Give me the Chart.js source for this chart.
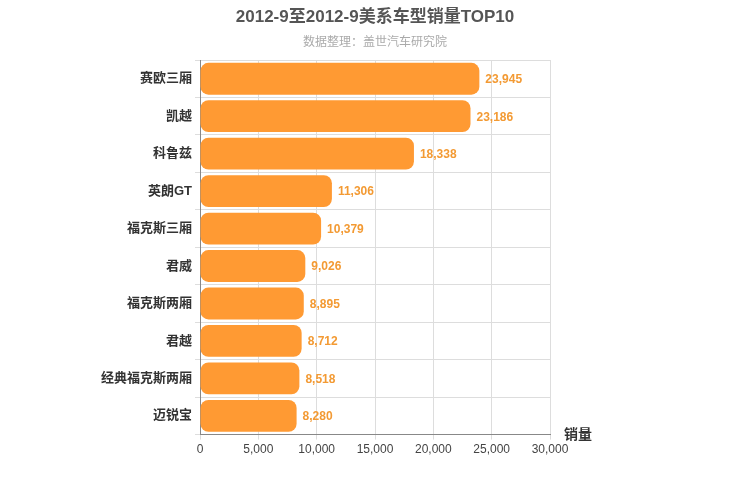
<!DOCTYPE html>
<html lang="zh">
<head>
<meta charset="UTF-8">
<title>美系车型销量TOP10</title>
<script src="https://cdn.jsdelivr.net/npm/chart.js"></script>
<style>
  body { margin: 0; background: #fff; }
  #wrap { width: 750px; height: 500px; }
</style>
</head>
<body>
<div id="wrap"><canvas id="myChart" width="750" height="500"></canvas></div>
<script>
    // 数据
    const modelos = ['赛欧三厢', '凯越', '科鲁兹', '英朗GT', '福克斯三厢', '君威', '福克斯两厢', '君越', '经典福克斯两厢', '迈锐宝'];
    const vendas = [23945, 23186, 18338, 11306, 10379, 9026, 8895, 8712, 8518, 8280];
    const xTicks = [0, 5000, 10000, 15000, 20000, 25000, 30000];

    const fonte = '"Liberation Sans", "Noto Sans CJK SC", sans-serif';

    // títulos, rótulos dos valores e título do eixo
    const rotulos = {
        id: 'rotulos',
        afterDatasetsDraw(chart) {
            const ctx = chart.ctx;
            const meta = chart.getDatasetMeta(0);
            ctx.save();
            ctx.font = 'bold 12px ' + fonte;
            ctx.fillStyle = '#f39a33';
            ctx.textBaseline = 'middle';
            meta.data.forEach((bar, i) => {
                ctx.fillText(vendas[i].toLocaleString('en-US'), bar.x + 6, bar.y + 1);
            });
            const area = chart.chartArea;
            ctx.font = 'bold 14px ' + fonte;
            ctx.fillStyle = '#333';
            ctx.textBaseline = 'alphabetic';
            ctx.fillText('销量', area.right + 14, area.bottom + 4);

            ctx.textAlign = 'center';
            ctx.font = 'bold 17px ' + fonte;
            ctx.fillStyle = '#555';
            ctx.fillText('2012-9至2012-9美系车型销量TOP10', 375, 22);
            ctx.font = '12px ' + fonte;
            ctx.fillStyle = '#aaa';
            ctx.fillText('数据整理：盖世汽车研究院', 375, 46);
            ctx.restore();
        }
    };

    new Chart(document.getElementById('myChart'), {
        type: 'bar',
        data: {
            labels: modelos,
            datasets: [{
                data: vendas,
                backgroundColor: '#ff9a33',
                borderRadius: 8,
                borderSkipped: false,
                barPercentage: 0.85,
                categoryPercentage: 1
            }]
        },
        options: {
            indexAxis: 'y',
            responsive: false,
            animation: false,
            layout: { padding: { left: 10, right: 200, top: 60, bottom: 40 } },
            plugins: {
                legend: { display: false },
                tooltip: { enabled: false }
            },
            scales: {
                x: {
                    min: 0, max: 30000,
                    afterBuildTicks(axis) { axis.ticks = xTicks.map(v => ({ value: v })); },
                    grid: { color: '#ddd', drawTicks: true, tickLength: 5 },
                    border: { color: '#888' },
                    ticks: {
                        color: '#444',
                        font: { size: 12, family: fonte },
                        callback: v => v.toLocaleString('en-US')
                    }
                },
                y: {
                    afterFit(axis) { axis.width = 190; },
                    grid: { color: '#ddd', offset: true, tickLength: 5 },
                    border: { color: '#888' },
                    ticks: { color: '#333', font: { size: 13, weight: 'bold', family: fonte } }
                }
            }
        },
        plugins: [rotulos]
    });
</script>
</body>
</html>
